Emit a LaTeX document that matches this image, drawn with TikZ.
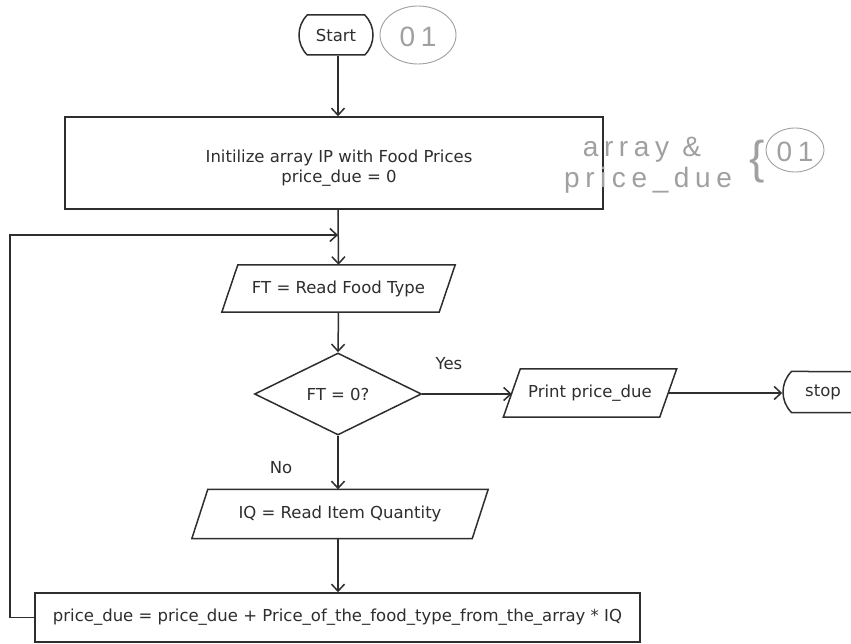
\documentclass[tikz,border=0pt]{standalone}
\usepackage{fontspec}
\setmainfont{DejaVu Sans}
\newfontfamily\handfont[LetterSpace=20]{Liberation Sans}
\usetikzlibrary{shapes.geometric,shapes.misc,arrows.meta}
\definecolor{ink}{HTML}{2E2E2E}
\definecolor{pencil}{HTML}{A0A0A0}
\newcommand\drawpara[2]{\draw[line] ([xshift=-#2]#1.south west) -- ([xshift=-#2]#1.south east) -- ([xshift=#2]#1.north east) -- ([xshift=#2]#1.north west) -- cycle;}
\begin{document}
\begin{tikzpicture}[x=1pt,y=-1pt,
  font=\fontsize{16.5}{20}\selectfont,
  every node/.style={text=ink},
  line/.style={draw=ink, line width=1.5pt},
  arr/.style={line, -{Straight Barb[length=7pt,width=13pt,line width=1.5pt]}},
  term/.style={line, rounded rectangle, rounded rectangle arc length=90, minimum width=74pt, minimum height=40pt, inner sep=0pt},
  procbox/.style={line, rectangle, inner sep=0pt},
  iobox/.style={rectangle, inner sep=0pt},
  decision/.style={line, diamond, inner sep=0pt, minimum width=167pt, minimum height=82pt},
  hand/.style={text=pencil, font=\handfont\fontsize{28}{30}\selectfont},
  pen/.style={draw=pencil, line width=0.9pt}
]
\useasboundingbox (0,0) rectangle (851,644);
\clip (0,0) rectangle (851,644);
\fill[white] (0,0) rectangle (851,644);

% flowchart nodes
\node[term] (start) at (336,35) {Start};
\node[procbox, minimum width=538pt, minimum height=92pt] (init) at (334,163) {};
\node[align=center, inner sep=0pt] (initlbl) at (339,168) {Initilize array IP with Food Prices\\price\_due = 0};
\coordinate (loopin) at (338,235);
\node[iobox, minimum width=217pt, minimum height=47pt] (ft) at (338.5,288.5) {FT = Read Food Type};
\drawpara{ft}{8pt}
\node[decision] (dec) at (338,394) {FT = 0?};
\node[iobox, minimum width=156pt, minimum height=48pt] (print) at (590,393) {Print price\_due};
\drawpara{print}{8.5pt}
\node[term, minimum width=80pt, minimum height=41pt] (stop) at (823,392) {stop};
\node[iobox, minimum width=280pt, minimum height=49pt] (iq) at (340,514) {IQ = Read Item Quantity};
\drawpara{iq}{8pt}
\node[procbox, minimum width=605pt, minimum height=49pt] (upd) at (337.5,617.5) {price\_due = price\_due + Price\_of\_the\_food\_type\_from\_the\_array * IQ};
\node (yes) at (449,364) {Yes};
\node (no) at (281,468) {No};
\coordinate (loopcorner) at (10,617.5);

% connectors
\draw[arr] (start.south -| loopin) -- (loopin |- init.north);
\draw[arr] (loopin |- init.south) -- (ft.north);
\draw[arr] (ft.south) -- (dec.north);
\draw[arr] (dec.east) -- (dec.east -| print.west);
\draw[arr] (print.east) -- (print.east -| stop.west);
\draw[arr] (dec.south) -- (dec.south |- iq.north);
\draw[arr] (dec.south |- iq.south) -- (dec.south |- upd.north);
\draw[arr] (upd.west) -- (loopcorner) |- (loopin);

% handwritten marks
\draw[pen] (418,35) ellipse (38 and 29);
\node[hand] (m1) at (418,37) {01};
\node[hand] (m2) at (642,150) {array \&};
\node[hand] (m3) at (648,180) {price\_due};
\node[hand, font=\handfont\fontsize{46}{50}\selectfont] (m4) at (757,162) {\{};
\draw[pen] (795,150) ellipse (29 and 22);
\node[hand] (m5) at (795,152) {01};
\end{tikzpicture}
\end{document}
